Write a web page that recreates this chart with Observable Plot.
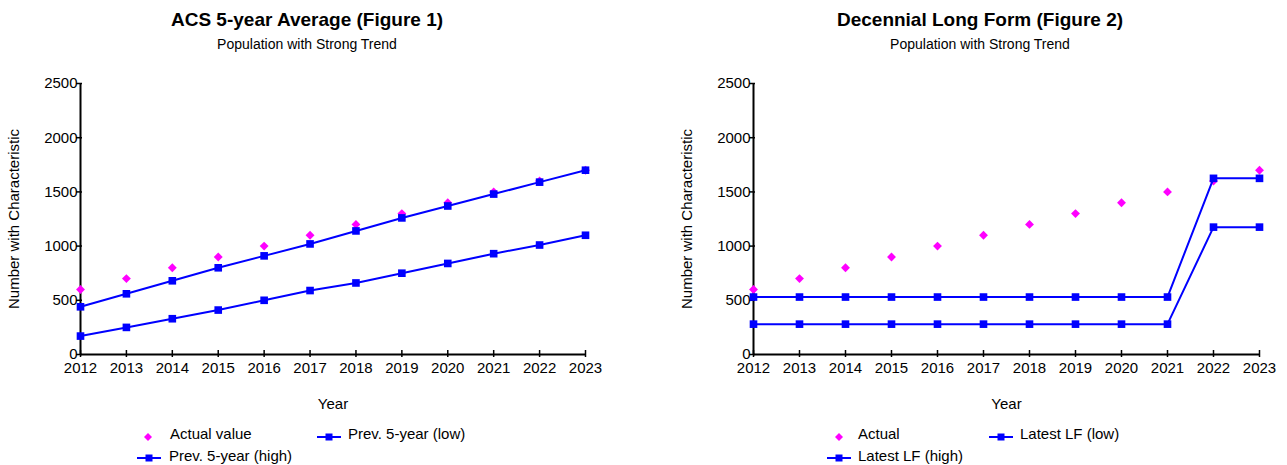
<!DOCTYPE html>
<html><head><meta charset="utf-8">
<script src="https://cdn.jsdelivr.net/npm/d3@7"></script>
<script src="https://cdn.jsdelivr.net/npm/@observablehq/plot@0.6"></script>
<style>
body{margin:0;width:1287px;height:465px;overflow:hidden;background:#fff;font-family:"Liberation Sans",Arial,sans-serif;color:#000;}
.panel{position:absolute;top:0;width:614px;height:465px;}
.title{position:absolute;left:0;width:614px;text-align:center;top:10px;font-size:19px;line-height:19px;font-weight:bold;white-space:nowrap;}
.subtitle{position:absolute;left:0;width:614px;text-align:center;top:37px;font-size:14px;line-height:14px;white-space:nowrap;}
.chart{position:absolute;left:0;top:62px;}
.chart svg{overflow:visible;}
.lt{position:absolute;font-size:15px;line-height:15px;white-space:nowrap;}
.ls{position:absolute;}
</style></head><body>
<script>
const years = [2012, 2013, 2014, 2015, 2016, 2017, 2018, 2019, 2020, 2021, 2022, 2023];
const actual = [600, 700, 800, 900, 1000, 1100, 1200, 1300, 1400, 1500, 1600, 1700];
const acsHigh = [440, 560, 680, 800, 910, 1020, 1140, 1260, 1370, 1480, 1590, 1700];
const acsLow = [170, 250, 330, 410, 500, 590, 660, 750, 840, 930, 1010, 1100];
const lfHigh = [530, 530, 530, 530, 530, 530, 530, 530, 530, 530, 1625, 1625];
const lfLow = [280, 280, 280, 280, 280, 280, 280, 280, 280, 280, 1175, 1175];
const yTicks = [0, 500, 1000, 1500, 2000, 2500];

const panels = [
  {left: 0, marginRight: 29, title: "ACS 5-year Average (Figure 1)", subtitle: "Population with Strong Trend",
   high: acsHigh, low: acsLow, labels: ["Actual value", "Prev. 5-year (low)", "Prev. 5-year (high)"],
   leg: {dia: 148, t1: 170, lowSym: 317, t2: 348, highSym: 137, t3: 169}},
  {left: 673, marginRight: 28, title: "Decennial Long Form (Figure 2)", subtitle: "Population with Strong Trend",
   high: lfHigh, low: lfLow, labels: ["Actual", "Latest LF (low)", "Latest LF (high)"],
   leg: {dia: 166, t1: 185, lowSym: 316, t2: 347, highSym: 154, t3: 185}}
];

const font = '"Liberation Sans", Arial, sans-serif';

function lineSwatch() {
  return `<svg width="24" height="8" viewBox="0 0 24 8"><line x1="0" y1="4" x2="24" y2="4" stroke="#0000ff" stroke-width="2"/><rect x="8.5" y="0.5" width="7" height="7" fill="#0000ff"/></svg>`;
}
function diamondSwatch() {
  return `<svg width="8" height="8" viewBox="0 0 8 8"><path d="M4,0L8,4L4,8L0,4Z" fill="#ff00ff"/></svg>`;
}

for (const p of panels) {
  const panel = document.createElement("div");
  panel.className = "panel";
  panel.style.left = p.left + "px";
  document.body.appendChild(panel);

  const t = document.createElement("div"); t.className = "title"; t.textContent = p.title; panel.appendChild(t);
  const s = document.createElement("div"); s.className = "subtitle"; s.textContent = p.subtitle; panel.appendChild(s);

  const actualData = years.map((x, i) => ({x, y: actual[i]}));
  const highData = years.map((x, i) => ({x, y: p.high[i]}));
  const lowData = years.map((x, i) => ({x, y: p.low[i]}));

  const chart = Plot.plot({
    width: 614,
    height: 345,
    marginTop: 21,
    marginBottom: 53,
    marginLeft: 80,
    marginRight: p.marginRight,
    style: {fontFamily: font, fontSize: "15px", color: "#000", background: "transparent", overflow: "visible"},
    x: {domain: [2012, 2023]},
    y: {domain: [0, 2500]},
    marks: [
      Plot.axisX({ticks: years, tickFormat: d => String(d), tickSize: 3, tickPadding: 5, strokeWidth: 1.5,
        label: "Year", labelAnchor: "center", labelOffset: 54, labelArrow: "none"}),
      Plot.axisX({ticks: years, tickSize: -4, tickFormat: () => "", strokeWidth: 1.5, label: null}),
      Plot.axisY({ticks: yTicks, tickFormat: d => String(d), tickSize: 4, tickPadding: -1, strokeWidth: 1.5,
        label: "Number with Characteristic", labelAnchor: "center", labelOffset: 72, labelArrow: "none"}),
      Plot.axisY({ticks: yTicks, tickSize: -2, tickFormat: () => "", strokeWidth: 1.5, label: null}),
      Plot.ruleX([2012], {stroke: "#000", strokeWidth: 2}),
      Plot.ruleY([0], {stroke: "#000", strokeWidth: 2}),
      Plot.dot(actualData, {x: "x", y: "y", symbol: "diamond2", r: 4, fill: "#ff00ff", stroke: "none"}),
      Plot.line(highData, {x: "x", y: "y", stroke: "#0000ff", strokeWidth: 2}),
      Plot.dot(highData, {x: "x", y: "y", symbol: "square", r: 4.3, fill: "#0000ff", stroke: "none"}),
      Plot.line(lowData, {x: "x", y: "y", stroke: "#0000ff", strokeWidth: 2}),
      Plot.dot(lowData, {x: "x", y: "y", symbol: "square", r: 4.3, fill: "#0000ff", stroke: "none"})
    ]
  });
  const wrap = document.createElement("div"); wrap.className = "chart"; wrap.appendChild(chart); panel.appendChild(wrap);

  // legend
  const L = p.leg;
  const add = (cls, html, x, y) => {
    const d = document.createElement("div"); d.className = cls; d.style.left = x + "px"; d.style.top = y + "px";
    d.innerHTML = html; panel.appendChild(d); return d;
  };
  add("ls", diamondSwatch(), L.dia - 4, 427);
  add("lt", "", L.t1, 426).textContent = p.labels[0];
  add("ls", lineSwatch(), L.lowSym, 426.5);
  add("lt", "", L.t2, 426).textContent = p.labels[1];
  add("ls", lineSwatch(), L.highSym, 448);
  add("lt", "", L.t3, 447.5).textContent = p.labels[2];
}
</script>
</body></html>
